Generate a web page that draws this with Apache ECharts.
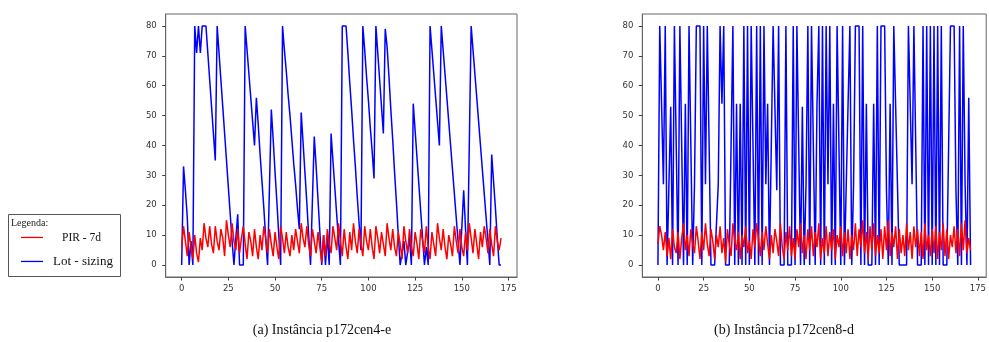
<!DOCTYPE html>
<html>
<head>
<meta charset="utf-8">
<script src="https://cdn.jsdelivr.net/npm/echarts@6/dist/echarts.min.js"></script>
<style>
html,body{margin:0;padding:0;background:#fff;}
#chart{width:989px;height:342px;}
</style>
</head>
<body>
<div id="chart"></div>
<script>
// ---- data ----
const xTicks = [0, 25, 50, 75, 100, 125, 150, 175];
const yTicks = [0, 10, 20, 30, 40, 50, 60, 70, 80];

// (a) p172cen4-e : Lot-sizing (blue)
const lotA = [
  0,33,25,16,0,8,0,80,71,80,
  71,80,80,80,71,62,53,44,35,80,
  71,62,53,44,35,26,17,8,0,9,
  17,0,0,0,80,72,64,56,48,40,
  56,47,37,28,19,9,0,0,52,42,
  31,21,10,0,80,72,65,57,50,42,
  34,27,19,12,51,41,31,21,10,0,
  0,43,33,22,11,0,10,0,10,0,
  44,35,26,17,8,0,80,80,80,71,
  61,52,42,33,23,14,5,80,72,63,
  55,46,38,29,80,71,62,53,44,79,
  73,63,52,42,31,21,10,0,0,8,
  0,0,9,0,54,45,36,27,18,9,
  0,6,0,80,72,64,56,48,40,80,
  72,64,56,48,40,32,24,16,8,0,
  0,25,12,0,0,80,72,64,56,48,
  40,32,24,16,8,0,37,28,19,9,
  0,0
];
// (a) p172cen4-e : PIR - 7d (red)
const pirA = [
  6,13,8,3,11,6,2,10,4,1,
  9,5,14,9,6,13,7,4,13,8,
  5,12,9,3,15,10,6,14,8,5,
  12,4,9,13,7,2,11,8,3,12,
  6,2,10,5,13,9,4,12,7,3,
  11,6,2,13,9,4,11,6,3,10,
  5,12,8,4,14,9,6,13,7,3,
  12,8,4,11,6,1,10,3,12,7,
  4,13,9,5,14,8,3,12,6,2,
  11,5,14,8,4,12,7,3,13,8,
  5,12,6,2,13,9,4,11,7,3,
  14,9,5,12,6,3,11,7,2,13,
  8,4,12,6,3,11,7,2,12,8,
  4,13,6,2,11,7,3,14,9,5,
  12,6,2,10,7,3,13,8,4,12,
  6,3,11,5,14,9,4,12,7,2,
  11,6,13,9,4,12,7,3,13,8,
  5,9
];
// (b) p172cen8-d : Lot-sizing (blue)
const lotB = [
  0,80,80,27,80,0,0,53,0,80,
  80,0,80,80,0,54,0,80,80,0,
  27,80,80,80,0,80,27,80,80,0,
  0,0,0,27,80,54,80,0,0,0,
  0,80,0,54,0,54,0,80,0,80,
  0,80,80,0,80,0,80,0,80,27,
  54,0,0,80,80,25,80,0,0,0,
  80,0,0,0,80,0,80,80,0,53,
  0,27,80,0,80,80,0,54,80,0,
  80,0,80,27,80,0,54,0,80,80,
  0,80,0,0,54,80,0,27,80,80,
  80,0,80,0,54,0,0,0,54,0,
  80,0,80,80,80,25,0,54,0,80,
  80,27,0,0,0,0,0,80,80,27,
  80,80,0,0,0,80,0,80,0,80,
  0,80,0,80,0,80,0,0,0,0,
  80,80,80,25,0,80,0,80,27,0,
  56,0
];
// (b) p172cen8-d : PIR - 7d (red)
const pirB = [
  7,13,10,5,11,3,9,2,12,6,
  4,11,2,9,14,5,10,3,12,7,
  4,13,8,2,11,5,14,7,3,12,
  8,2,10,6,13,4,9,1,12,7,
  3,14,8,5,11,2,10,6,13,4,
  8,2,12,6,14,9,3,11,5,13,
  7,2,10,4,12,8,3,14,6,2,
  11,5,13,3,9,2,12,6,14,4,
  10,2,12,5,13,3,11,6,14,2,
  9,4,13,3,11,5,12,2,10,6,
  13,3,11,4,12,2,10,5,14,3,
  12,6,15,4,11,2,13,5,14,3,
  10,4,12,2,13,5,15,3,11,6,
  13,2,12,4,10,3,14,5,11,2,
  13,6,12,3,11,2,14,5,10,3,
  12,4,13,2,11,5,14,3,12,2,
  10,6,13,4,12,3,14,5,15,4,
  9,5
];
const legendTitle = 'Legenda:';
const legendNames = ['PIR - 7d', 'Lot - sizing'];
const captions = ['(a) Instância p172cen4-e', '(b) Instância p172cen8-d'];

// ---- chart ----
const toPairs = arr => arr.map((v, i) => [i, v]);
const BLUE = '#0000ff', RED = '#ff0000';
const tickFont = 'DejaVu Sans';
const serif = '"Liberation Serif", "DejaVu Serif", serif';

function xAxis(gi) {
  return {
    type: 'value', gridIndex: gi, min: -8.55, max: 179.55,
    splitLine: { show: false },
    axisLine: { show: true, onZero: false, lineStyle: { color: '#666', width: 1 } },
    axisTick: { show: true, customValues: xTicks, length: 3.5, lineStyle: { color: '#444' } },
    axisLabel: { customValues: xTicks, fontSize: 8.5, color: '#333', margin: 7, fontFamily: tickFont }
  };
}
function yAxis(gi) {
  return {
    type: 'value', gridIndex: gi, min: -4, max: 84,
    splitLine: { show: false },
    axisLine: { show: true, onZero: false, lineStyle: { color: '#666', width: 1 } },
    axisTick: { show: true, customValues: yTicks, length: 3.5, lineStyle: { color: '#444' } },
    axisLabel: { customValues: yTicks, fontSize: 8.5, color: '#333', margin: 9, fontFamily: tickFont }
  };
}
function line(data, color, gi, z) {
  return {
    type: 'line', xAxisIndex: gi, yAxisIndex: gi, data: toPairs(data),
    showSymbol: false, symbol: 'none', z: z,
    lineStyle: { color: color, width: 1.5 }, itemStyle: { color: color }
  };
}

const chart = echarts.init(document.getElementById('chart'), null, { renderer: 'canvas' });
chart.setOption({
  animation: false,
  backgroundColor: '#fff',
  grid: [
    { left: 165.7, top: 14, width: 351.3, height: 263, show: true, borderColor: '#666', borderWidth: 1, containLabel: false },
    { left: 642.3, top: 14, width: 351.3, height: 263, show: true, borderColor: '#666', borderWidth: 1, containLabel: false }
  ],
  xAxis: [xAxis(0), xAxis(1)],
  yAxis: [yAxis(0), yAxis(1)],
  series: [
    line(lotA, BLUE, 0, 2),
    line(pirA, RED, 0, 3),
    line(lotB, BLUE, 1, 2),
    line(pirB, RED, 1, 3)
  ],
  graphic: [
    { type: 'rect', z: 10, shape: { x: 8.5, y: 214.5, width: 112, height: 62 },
      style: { fill: '#fff', stroke: '#555', lineWidth: 1 } },
    { type: 'text', z: 11, x: 11, y: 223, style: { text: legendTitle, font: '10px ' + serif, fill: '#222', verticalAlign: 'middle' } },
    { type: 'rect', z: 11, shape: { x: 21, y: 236.8, width: 22, height: 1.3 }, style: { fill: RED } },
    { type: 'text', z: 11, x: 62, y: 237.5, style: { text: legendNames[0], font: '11.5px ' + serif, fill: '#111', verticalAlign: 'middle' } },
    { type: 'rect', z: 11, shape: { x: 21, y: 260.8, width: 22, height: 1.3 }, style: { fill: BLUE } },
    { type: 'text', z: 11, x: 53, y: 262, style: { text: legendNames[1], font: '13px ' + serif, fill: '#111', verticalAlign: 'middle' } },
    { type: 'text', x: 322, y: 330, style: { text: captions[0], font: '14px ' + serif, fill: '#111', align: 'center', verticalAlign: 'middle' } },
    { type: 'text', x: 784, y: 330, style: { text: captions[1], font: '14px ' + serif, fill: '#111', align: 'center', verticalAlign: 'middle' } }
  ]
});
</script>
</body>
</html>
